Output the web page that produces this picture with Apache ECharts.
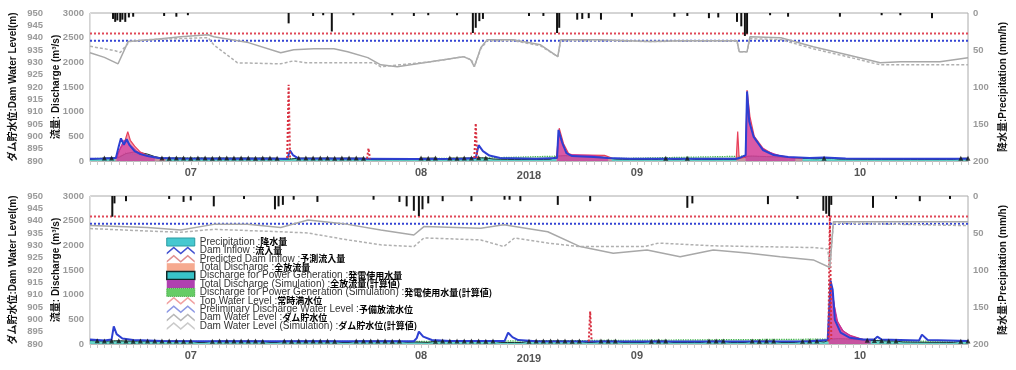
<!DOCTYPE html>
<html>
<head>
<meta charset="utf-8">
<script src="https://cdn.jsdelivr.net/npm/echarts/dist/echarts.min.js"></script>
<style>
html, body { margin: 0; padding: 0; background: #fff; }
#chart { width: 1016px; height: 370px; }
</style>
</head>
<body>
<div id="chart"></div>
<script>
// x values are day indices: 0 = Jul 1, 122 = Oct 31
const dayCount = 123;
const monthTicks = [14, 46, 76, 107];
const monthNames = ['07', '08', '09', '10'];
const yearNames = ['2018', '2019'];
const topWaterLevel = 941.7;
const prelimWaterLevel = 938.8;

const legendNames = [
  'Precipitation', 'Dam Inflow', 'Predicted Dam Inflow', 'Total Discharge',
  'Discharge for Power Generation', 'Total Discharge (Simulation)',
  'Discharge for Power Generation (Simulation)', 'Top Water Level',
  'Preliminary Discharge Water Level', 'Dam Water Level', 'Dam Water Level (Simulation)'
];
const legendJa = [
  '降水量', '流入量', '予測流入量', '全放流量', '発電使用水量', '全放流量(計算値)',
  '発電使用水量(計算値)', '常時満水位', '予備放流水位', 'ダム貯水位', 'ダム貯水位(計算値)'
];

// ---- 2018 ----
const precipA = [[3.2,8],[3.5,12],[3.8,10],[4.2,12],[4.5,9],[4.9,12],[5.4,6],[6,5],[10.3,4],[12,5],[13.6,3],
  [27.6,14],[31,4],[32.4,3],[33.6,25],[36.6,3],[42,3],[45,4],[47,3],[51,3],[53.2,27],[53.6,20],[54.1,11],[54.6,8],
  [61,4],[63,4],[64.9,27],[65.2,20],[67.7,9],[68.4,8],[69.3,7],[71,9],[75.3,5],[81.2,5],[83,4],[86,7],[87.3,6],
  [89.9,12],[90.5,18],[91.0,31],[91.3,28],[94.5,3],[97,5],[104.2,5],[110,3],[112.6,3],[117,7]];
const inflowA = [[0,45],[2,50],[3.6,60],[4.0,300],[4.3,460],[4.7,330],[5.1,440],[5.5,320],[6.2,200],[7,140],[8,100],
  [9.5,60],[12,50],[20,45],[27.4,45],[27.8,210],[28.2,120],[29,50],[38,45],[45,40],[52,45],[53.6,60],[54.0,320],
  [54.6,200],[55.5,110],[57,60],[62,45],[64.9,60],[65.1,630],[65.6,380],[66.2,160],[67,100],[70,80],[72,60],[75,45],
  [89.8,45],[90.2,60],[91.1,120],[91.3,1410],[91.6,800],[92.2,495],[93.5,223],[95,120],[97,80],[100,60],[102,70],
  [105,50],[110,45],[116,45],[122,45]];
const predictedA = [[27.4,60],[27.6,1545],[27.8,60],[28,'-'],[38.5,50],[38.7,258],[38.9,50],[39.1,'-'],
  [53.4,60],[53.6,765],[53.8,60]];
const totalA = [[3.5,45],[4.2,250],[4.8,380],[5.25,595],[5.6,420],[6.2,300],[7,180],[8,110],[9.5,60],[10.5,45],[11,'-'],
  [64.8,50],[65.2,665],[65.8,350],[66.5,150],[67,125],[71.5,115],[72.5,60],[73,'-'],
  [89.8,50],[90.0,595],[90.2,50],[91.1,80],[91.3,1440],[91.7,900],[92.3,500],[93.5,260],[95,130],[97,80],[99,50]];
const totalSimA = [[3.7,45],[4.3,300],[4.7,420],[5.2,380],[5.8,300],[6.5,200],[7.5,120],[9,60],[10,'-'],
  [64.9,50],[65.2,560],[65.7,300],[66.5,130],[70,110],[72,50],[72.5,'-'],
  [91.1,60],[91.3,1300],[91.8,700],[92.5,400],[94,200],[96,100],[98,50]];
const powerGenA = [
  30,45,60,62,70,150,180,170,140,90,
  60,58,62,60,57,61,60,58,62,60,
  59,61,60,58,62,60,58,35,40,60,
  61,59,60,62,58,60,61,59,58,30,
  28,30,32,30,29,31,60,58,61,30,
  60,58,62,60,65,62,40,35,32,30,
  30,32,30,31,35,100,110,100,95,90,
  90,85,60,40,35,32,30,30,32,30,
  55,30,31,58,30,32,30,30,31,30,
  35,90,100,95,90,85,80,70,60,55,
  50,45,58,55,40,38,36,35,34,33,
  32,31,30,30,31,30,30,32,30,31,
  30,55,58];
const genMarksA = [2,3,10,11,12,13,14,15,16,17,18,19,20,21,22,23,24,25,26,29,30,31,32,33,34,35,36,37,38,
  46,47,48,50,51,52,53,54,55,80,83,102,121,122];
const genSimA = [[0,50],[3.5,55],[5,160],[7,120],[9,60],[27,50],[40,45],[53,55],[65.2,100],[70,90],[73,50],
  [91.4,100],[96,70],[100,50],[122,50]];
const levelA = [[0,933.9],[2,932.0],[3.9,929.4],[5.3,938.4],[8.5,939.2],[12.6,940.4],[16.4,941.2],[17.2,940.4],
  [22,938.0],[26.5,933.9],[28.3,935.1],[31.1,935.5],[33.9,935.5],[35.8,934.3],[38.6,931.9],[40.4,929.0],[42.7,928.2],
  [47.3,930.2],[51.9,932.3],[52.9,931.0],[53.4,928.2],[54.3,935.9],[55.2,939.2],[58.8,939.2],[62.6,937.1],[65,932.3],
  [65.4,939.2],[70.9,939.2],[77.9,938.4],[82,938.8],[89.9,938.8],[90.2,934.3],[91.3,934.3],[91.7,940.4],[96,940.0],
  [100.5,936.3],[105.2,933.1],[109.8,929.8],[112.6,930.2],[118.1,930.2],[122,931.9]];
const levelSimA = [[0,936.5],[2,935.5],[3.5,934.7],[4.2,934.0],[5.5,938.4],[8,939.2],[12,939.6],[16.4,940.0],
  [17.2,937.1],[20.5,929.8],[26.5,929.4],[28.3,930.6],[30,929.8],[39.5,929.8],[40.4,928.2],[43,929.0],[47.3,930.2],
  [51.9,932.3],[53,931.0],[53.4,928.2],[54.3,935.5],[55.2,938.8],[58.8,938.8],[62.6,936.7],[65,932.3],[65.4,938.8],
  [71,938.8],[78,938.4],[82,938.6],[89.9,938.6],[90.2,934.3],[91.3,934.3],[91.7,939.6],[96,939.2],[100.5,935.5],
  [105.2,932.3],[109.8,929.0],[112.6,929.0],[118,929.0],[122,929.0]];

// ---- 2019 ----
const precipB = [[3.1,28],[3.4,10],[5,7],[11,4],[13,8],[14,6],[17.2,14],[21.4,4],[25.7,18],[26.2,14],[26.8,12],
  [28.3,5],[31.6,8],[39.4,5],[43,8],[44,14],[45,20],[45.7,27],[46.2,18],[47,10],[49,7],[53,7],[57.6,5],[58.3,5],
  [59.8,7],[65,12],[69.5,7],[83,16],[83.7,10],[94.2,11],[98.3,4],[101.9,20],[102.3,24],[102.7,27],[103,12],
  [108.8,16],[112,4],[115.3,7],[119.5,4]];
const inflowB = [[0,90],[2,70],[3.0,90],[3.3,356],[3.7,200],[4.5,110],[6,80],[10,60],[20,55],[30,55],[45,55],
  [45.4,120],[45.7,250],[46.3,150],[47.5,80],[50,60],[57.6,60],[58.1,229],[58.7,140],[59.5,80],[62,55],[80,50],
  [100,55],[102.5,80],[102.9,1280],[103.2,1100],[103.5,490],[104.3,230],[105.6,125],[107.4,90],[109,90],[109.4,150],
  [110,90],[115.2,70],[115.6,190],[116.4,80],[122,60]];
const predictedB = [[69.3,50],[69.5,660],[69.7,50],[70,'-'],[102.6,50],[102.8,2600],[103.0,100]];
const totalB = [[102.6,60],[102.9,1300],[103.3,900],[103.7,500],[104.5,280],[105.5,180],[107,110],[108,70]];
const totalSimB = [[102.7,60],[103.0,1200],[103.4,800],[103.9,450],[104.7,260],[105.8,160],[107.2,100],[108.5,60]];
const powerGenB = [
  70,65,60,62,65,60,58,62,60,61,
  59,60,62,58,60,30,32,58,60,62,
  60,59,61,60,58,30,31,60,58,61,
  60,62,59,60,58,30,30,60,61,59,
  60,62,58,60,35,40,38,32,58,60,
  61,59,60,62,60,58,61,32,30,31,
  30,58,60,62,59,61,60,58,60,30,
  31,60,59,61,30,32,30,31,58,60,
  62,30,31,30,32,30,59,61,60,30,
  31,30,60,58,61,59,31,30,32,58,
  60,61,40,100,110,105,95,85,75,70,
  65,62,60,40,38,36,35,34,33,32,
  32,58,60];
const genMarksB = [1,2,3,4,5,6,7,8,9,10,11,12,13,14,17,18,19,20,21,22,23,24,27,28,29,30,31,32,33,34,
  37,38,39,40,41,42,43,48,49,50,51,52,53,54,55,56,61,62,63,64,65,66,67,68,71,72,73,78,79,80,86,87,88,
  92,93,94,95,99,100,101,108,109,110,111,112,121,122];
const genSimB = [[0,60],[10,55],[50,55],[103,100],[107,85],[112,60],[122,55]];
const levelB = [[0,938.0],[8,937.2],[12.6,936.2],[17.2,938.5],[21.9,938.5],[26.5,937.2],[30.3,940.3],[35.8,938.5],
  [40.4,936.2],[45,934.2],[46.4,937.6],[54.3,936.9],[57.5,938.3],[63.6,935.5],[68.1,929.5],[72.7,926.8],[77.4,928.1],
  [82,925.4],[86.6,928.1],[91.3,926.9],[95.9,925.4],[100.5,924.1],[102.8,921.0],[103.3,939.6],[112.6,939.6],[122,939.6]];
const levelSimB = [[0,936.8],[8,935.8],[12.6,935.3],[17.2,936.5],[26.5,935.5],[30.3,935.0],[35.8,932.2],[40.4,930.2],
  [45,929.5],[46.4,933.0],[54.3,932.2],[57.5,929.5],[59,933.0],[63.6,930.9],[68,929.5],[77,929.5],[79,930.9],
  [86.6,929.8],[100.5,929.1],[102.5,928.5],[102.8,921.0],[103.3,939.0],[112.6,938.5],[122,938.0]];

const panels = [
  { precip: precipA, inflow: inflowA, predicted: predictedA, total: totalA, totalSim: totalSimA,
    gen: powerGenA, marks: genMarksA, genSim: genSimA, level: levelA, levelSim: levelSimA },
  { precip: precipB, inflow: inflowB, predicted: predictedB, total: totalB, totalSim: totalSimB,
    gen: powerGenB, marks: genMarksB, genSim: genSimB, level: levelB, levelSim: levelSimB }
];

const mixFont = '"Liberation Sans", "Noto Sans CJK JP", Arial, sans-serif';
const tickLabel = { fontSize: 9.5, fontWeight: 'bold', color: '#9a9a9a', fontFamily: mixFont, formatter: v => String(v) };
const axisName = { fontSize: 10, fontWeight: 'bold', color: '#111', fontFamily: mixFont };
const [N_P, N_IN, N_PR, N_TD, N_PG, N_TDS, N_PGS, N_TWL, N_PWL, N_WL, N_WLS] = legendNames;

const grids = [], xAxes = [], yAxes = [], series = [];

panels.forEach((p, i) => {
  const yL = i * 3, yQ = i * 3 + 1, yP = i * 3 + 2;
  grids.push({ left: 89, right: 48, top: i === 0 ? 13 : 196, height: 148,
    show: true, borderColor: '#aaa', borderWidth: 1 });
  xAxes.push({
    type: 'value', gridIndex: i, min: 0, max: dayCount - 1, interval: 1,
    name: yearNames[i], nameLocation: 'middle', nameGap: 9, nameMoveOverlap: false,
    nameTextStyle: { fontSize: 11, fontWeight: 'bold', color: '#555', fontFamily: mixFont },
    axisLine: { show: true, lineStyle: { color: '#bbb' } },
    axisTick: { show: true, length: 4, lineStyle: { color: '#c8c8c8' } },
    axisLabel: { margin: 6, fontSize: 11, fontWeight: 'bold', color: '#555', fontFamily: mixFont,
      formatter: v => { const k = monthTicks.indexOf(v); return k >= 0 ? monthNames[k] : ''; } },
    splitLine: { show: false }
  });
  yAxes.push({
    type: 'value', gridIndex: i, position: 'left', offset: 40, min: 890, max: 950, interval: 5,
    name: 'ダム貯水位:Dam Water Level(m)', nameLocation: 'middle', nameGap: 32, nameRotate: 90,
    nameMoveOverlap: false, nameTextStyle: axisName,
    axisLine: { show: true, lineStyle: { color: '#e2e2e2' } }, axisTick: { show: false },
    axisLabel: Object.assign({ margin: 7 }, tickLabel), splitLine: { show: false }
  }, {
    type: 'value', gridIndex: i, position: 'left', min: 0, max: 3000, interval: 500,
    name: '流量: Discharge (m³/s)', nameLocation: 'middle', nameGap: 29, nameRotate: 90,
    nameMoveOverlap: false, nameTextStyle: axisName,
    axisLine: { show: false }, axisTick: { show: false },
    axisLabel: Object.assign({ margin: 6 }, tickLabel), splitLine: { show: false }
  }, {
    type: 'value', gridIndex: i, position: 'right', inverse: true, min: 0, max: 200, interval: 50,
    name: '降水量:Precipitation (mm/h)', nameLocation: 'middle', nameGap: 30, nameRotate: 90,
    nameMoveOverlap: false, nameTextStyle: axisName,
    axisLine: { show: false }, axisTick: { show: false },
    axisLabel: Object.assign({ margin: 5 }, tickLabel), splitLine: { show: false }
  });

  const base = { type: 'line', xAxisIndex: i, symbol: 'none', silent: true };
  series.push(
    Object.assign({}, base, { name: N_PGS, yAxisIndex: yQ, data: p.genSim, z: 2,
      lineStyle: { color: '#3cb04a', width: 1.2, type: 'dotted' }, areaStyle: { color: 'rgba(90,200,90,0.45)' } }),
    Object.assign({}, base, { name: N_PG, yAxisIndex: yQ, data: p.gen.map((v, k) => [k, v]), z: 3,
      lineStyle: { color: '#1d3535', width: 1 }, areaStyle: { color: '#3ccaca' } }),
    Object.assign({}, base, { name: N_TD, yAxisIndex: yQ, data: p.total, z: 4,
      lineStyle: { color: '#e8405a', width: 1.2 }, areaStyle: { color: '#f0788e' } }),
    Object.assign({}, base, { name: N_TDS, yAxisIndex: yQ, data: p.totalSim, z: 5,
      lineStyle: { color: '#c0309e', width: 1 }, areaStyle: { color: 'rgba(200,40,160,0.85)' } }),
    Object.assign({}, base, { name: N_IN, yAxisIndex: yQ, data: p.inflow, z: 6,
      lineStyle: { color: '#2d3fd2', width: 2 } }),
    { name: N_PG, type: 'scatter', xAxisIndex: i, yAxisIndex: yQ, silent: true, z: 7,
      data: p.marks.map(k => [k, p.gen[k]]), symbol: 'triangle', symbolSize: 5,
      itemStyle: { color: '#151515' } },
    Object.assign({}, base, { name: N_PR, yAxisIndex: yQ, data: p.predicted, z: 8,
      lineStyle: { color: '#d83040', width: 2, type: 'dotted' } }),
    Object.assign({}, base, { name: N_TWL, yAxisIndex: yL, data: [[0, topWaterLevel], [dayCount - 1, topWaterLevel]], z: 9,
      lineStyle: { color: '#e04858', width: 2, type: [2, 2] } }),
    Object.assign({}, base, { name: N_PWL, yAxisIndex: yL, data: [[0, prelimWaterLevel], [dayCount - 1, prelimWaterLevel]], z: 9,
      lineStyle: { color: '#3444d4', width: 2, type: [2, 2] } }),
    Object.assign({}, base, { name: N_WL, yAxisIndex: yL, data: p.level, z: 9,
      lineStyle: { color: '#a8a8a8', width: 1.5 } }),
    Object.assign({}, base, { name: N_WLS, yAxisIndex: yL, data: p.levelSim, z: 9,
      lineStyle: { color: '#b0b0b0', width: 1.5, type: [3, 2] } }),
    { name: N_P, type: 'bar', xAxisIndex: i, yAxisIndex: yP, silent: true, z: 10,
      data: p.precip, barWidth: 2, itemStyle: { color: '#111' } }
  );
});

const zig = 'path://M0,7L7,1L14,7L21,1L28,7L28,9L21,3L14,9L7,3L0,9Z';
const legendStyles = [
  { icon: 'rect', itemStyle: { color: '#46c8d0', borderColor: '#2a9aa0', borderWidth: 1 } },
  { icon: zig, itemStyle: { color: '#4050d0', borderWidth: 0 } },
  { icon: zig, itemStyle: { color: '#e09090', borderWidth: 0 } },
  { icon: 'rect', itemStyle: { color: '#f6aa90', borderColor: '#f6aa90', borderWidth: 0 } },
  { icon: 'rect', itemStyle: { color: '#38c4c8', borderColor: '#102828', borderWidth: 1.5 } },
  { icon: 'rect', itemStyle: { color: '#b040b0', borderWidth: 0 } },
  { icon: 'rect', itemStyle: { color: '#66cc66', borderColor: '#2a9a2a', borderWidth: 1, borderType: 'dotted' } },
  { icon: zig, itemStyle: { color: '#f0a0a0', borderWidth: 0 } },
  { icon: zig, itemStyle: { color: '#8c98e4', borderWidth: 0 } },
  { icon: zig, itemStyle: { color: '#b8b8b8', borderWidth: 0 } },
  { icon: zig, itemStyle: { color: '#cacaca', borderWidth: 0 } }
];

const chart = echarts.init(document.getElementById('chart'));
chart.setOption({
  animation: false,
  backgroundColor: '#fff',
  grid: grids,
  xAxis: xAxes,
  yAxis: yAxes,
  legend: {
    orient: 'vertical', left: 166, top: 237, itemWidth: 28, itemHeight: 8, itemGap: -1.6,
    selectedMode: false, padding: 0,
    data: legendNames.map((n, k) => Object.assign({ name: n }, legendStyles[k])),
    formatter: n => '{e|' + n + ' :}{j|' + legendJa[legendNames.indexOf(n)] + '}',
    textStyle: {
      fontSize: 9, lineHeight: 8,
      rich: {
        e: { fontFamily: '"Liberation Sans", Arial, sans-serif', fontSize: 10, color: '#333', lineHeight: 8 },
        j: { fontFamily: '"Noto Sans CJK JP", sans-serif', fontWeight: 'bold', fontSize: 9, color: '#000', lineHeight: 8 }
      }
    }
  },
  series: series
});
</script>
</body>
</html>
